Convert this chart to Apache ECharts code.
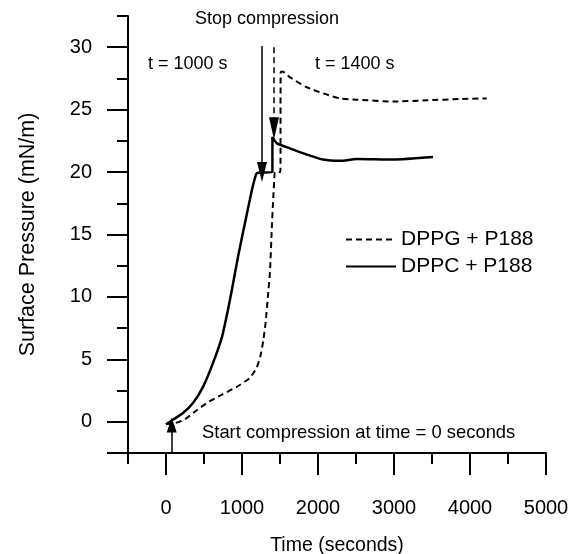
<!DOCTYPE html>
<html>
<head>
<meta charset="utf-8">
<title>Surface Pressure</title>
<script src="https://cdn.jsdelivr.net/npm/echarts@6/dist/echarts.min.js"></script>
<style>
html,body{margin:0;padding:0;background:#fff;}
#main{width:573px;height:554px;}
</style>
</head>
<body>
<div id="main"></div>
<script>
// 数据 (time s, pressure mN/m)
var seriesNames = ['DPPG + P188', 'DPPC + P188'];
var dppgData = [[0,-0.2],[120,-0.1],[250,0.2],[400,0.9],[560,1.6],[730,2.15],[930,2.8],[1100,3.5],[1190,4.3],[1240,5.2],[1280,6.5],[1310,7.9],[1340,10.0],[1368,12.0],[1392,15.5],[1412,18.0],[1425,19.4],[1434,20.0],[1505,20.0],[1509,28.0],[1530,28.05],[1630,27.6],[1850,26.8],[2070,26.3],[2290,25.9],[2510,25.8],[2990,25.65],[3430,25.75],[3870,25.85],[4220,25.9]];
var dppcData = [[0,-0.2],[100,0.2],[224,0.7],[355,1.5],[487,2.8],[618,4.7],[737,6.8],[816,9.0],[868,10.6],[947,13.2],[1066,16.7],[1132,18.6],[1184,19.8],[1210,19.95],[1400,20.0],[1400,22.8],[1460,22.3],[1630,21.9],[1855,21.4],[2066,21.0],[2290,20.9],[2513,21.05],[2990,21.0],[3513,21.2]];
var xMajorTicks = [0, 1000, 2000, 3000, 4000, 5000];
var yMajorTicks = [-2.5, 0, 5, 10, 15, 20, 25, 30];
var yLabels = [0, 5, 10, 15, 20, 25, 30];
// 箭头 [x, yFrom, yTo]
var stopArrow1000 = [1263, 30.1, 20.0];
var stopArrow1400 = [1421, 30.0, 23.5];
var startArrow = [75, -2.5, -0.25];

var font = 'Liberation Sans, Arial, sans-serif';
var black = '#000';

function arrow(a, dashed, size) {
    return [{
        coord: [a[0], a[1]],
        symbol: 'none',
        lineStyle: {type: dashed ? [6, 4] : 'solid'}
    }, {
        coord: [a[0], a[2]],
        symbol: 'triangle',
        symbolSize: size
    }];
}

function plain(v) {
    return String(v);
}

var axisBase = {
    type: 'value',
    min: -500,
    max: 5000,
    position: 'bottom',
    offset: 0,
    splitLine: {show: false}
};

var option = {
    animation: false,
    backgroundColor: '#fff',
    grid: {left: 128, right: 27, top: 16, bottom: 101, containLabel: false, outerBoundsMode: 'none'},
    legend: {
        orient: 'vertical',
        left: 340,
        top: 224,
        itemWidth: 50,
        itemHeight: 12,
        itemGap: 6,
        itemStyle: {opacity: 0},
        textStyle: {color: black, fontSize: 21, fontFamily: font},
        data: seriesNames
    },
    xAxis: [Object.assign({}, axisBase, {
        interval: 500,
        axisLine: {onZero: false, lineStyle: {color: black, width: 2}},
        axisTick: {length: 11, lineStyle: {color: black, width: 2}},
        axisLabel: {show: false}
    }), Object.assign({}, axisBase, {
        name: 'Time (seconds)',
        nameLocation: 'middle',
        nameGap: 83,
        nameTextStyle: {color: black, fontSize: 19.5, fontFamily: font},
        axisLine: {show: false, onZero: false},
        axisTick: {length: 22, customValues: xMajorTicks, lineStyle: {color: black, width: 2}},
        axisLabel: {customValues: xMajorTicks, formatter: plain, margin: 45, color: black, fontSize: 20, fontFamily: font}
    })],
    yAxis: [{
        type: 'value',
        min: -2.5,
        max: 32.5,
        interval: 2.5,
        position: 'left',
        offset: 0,
        splitLine: {show: false},
        axisLine: {show: true, onZero: false, lineStyle: {color: black, width: 2}},
        axisTick: {show: true, length: 11, lineStyle: {color: black, width: 2}},
        axisLabel: {show: false}
    }, {
        type: 'value',
        min: -2.5,
        max: 32.5,
        position: 'left',
        offset: 0,
        name: 'Surface Pressure (mN/m)',
        nameLocation: 'middle',
        nameGap: 89,
        nameTextStyle: {color: black, fontSize: 21.5, fontFamily: font},
        splitLine: {show: false},
        axisLine: {show: false, onZero: false},
        axisTick: {show: true, length: 21, customValues: yMajorTicks, lineStyle: {color: black, width: 2}},
        axisLabel: {customValues: yLabels, formatter: plain, margin: 36, color: black, fontSize: 20, fontFamily: font}
    }],
    series: [{
        name: seriesNames[0],
        type: 'line',
        xAxisIndex: 0,
        yAxisIndex: 0,
        showSymbol: false,
        symbol: 'none',
        smooth: 0.2,
        lineStyle: {color: black, width: 2, type: [6, 4]},
        itemStyle: {color: black},
        data: dppgData,
        markLine: {
            silent: true,
            animation: false,
            label: {show: false},
            lineStyle: {color: black, width: 1.5, type: [6, 4]},
            data: [arrow(stopArrow1400, true, [10, 22])]
        }
    }, {
        name: seriesNames[1],
        type: 'line',
        xAxisIndex: 0,
        yAxisIndex: 0,
        showSymbol: false,
        symbol: 'none',
        smooth: 0.2,
        lineStyle: {color: black, width: 2.5, type: 'solid'},
        itemStyle: {color: black},
        data: dppcData,
        markLine: {
            silent: true,
            animation: false,
            label: {show: false},
            lineStyle: {color: black, width: 1.5, type: 'solid'},
            data: [arrow(stopArrow1000, false, [10, 20]), arrow(startArrow, false, [10, 15])]
        }
    }],
    graphic: [
        {type: 'text', left: 195, top: 10, style: {text: 'Stop compression', fill: black, fontSize: 18, fontFamily: font}},
        {type: 'text', left: 148, top: 55, style: {text: 't = 1000 s', fill: black, fontSize: 18, fontFamily: font}},
        {type: 'text', left: 315, top: 55, style: {text: 't = 1400 s', fill: black, fontSize: 18, fontFamily: font}},
        {type: 'text', left: 202, top: 424, style: {text: 'Start compression at time = 0 seconds', fill: black, fontSize: 18.4, fontFamily: font}}
    ]
};

var chart = echarts.init(document.getElementById('main'));
chart.setOption(option);
</script>
</body>
</html>
